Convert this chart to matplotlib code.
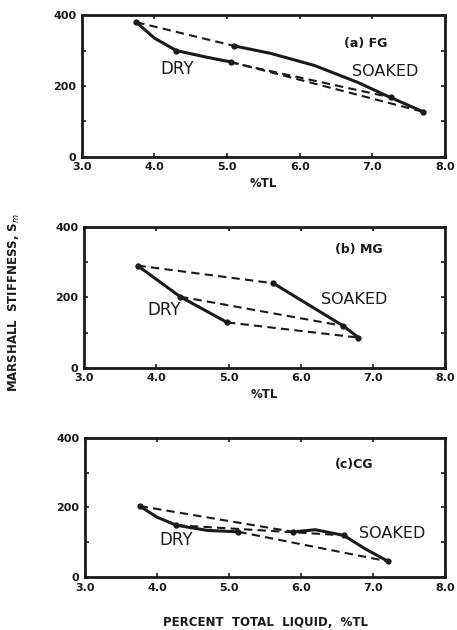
import matplotlib
matplotlib.use('Agg')
from matplotlib import pyplot as plt

# Marshall stiffness vs percent total liquid, dry and soaked, three gradations

# (a) FG
fg_dry_x = [3.75, 4.0, 4.3, 4.7, 5.05]
fg_dry_y = [380, 335, 300, 282, 268]
fg_soak_x = [5.1, 5.6, 6.2, 6.8, 7.2, 7.7]
fg_soak_y = [313, 292, 258, 210, 172, 127]
fg_dry_pts = [(3.75, 380), (4.3, 300), (5.05, 268)]
fg_soak_pts = [(5.1, 313), (7.25, 168), (7.7, 127)]

# (b) MG
mg_dry_x = [3.74, 4.33, 4.98]
mg_dry_y = [290, 202, 129]
mg_soak_x = [5.62, 6.59, 6.80]
mg_soak_y = [240, 119, 86]
mg_dry_pts = [(3.74, 290), (4.33, 202), (4.98, 129)]
mg_soak_pts = [(5.62, 240), (6.59, 119), (6.80, 86)]

# (c) CG
cg_dry_x = [3.76, 4.0, 4.27, 4.7, 5.13]
cg_dry_y = [204, 172, 149, 134, 130]
cg_soak_x = [5.89, 6.2, 6.59, 6.9, 7.21]
cg_soak_y = [130, 136, 120, 80, 45]
cg_dry_pts = [(3.76, 204), (4.27, 149), (5.13, 130)]
cg_soak_pts = [(5.89, 130), (6.59, 120), (7.21, 45)]

panels = [
    ('(a) FG', fg_dry_x, fg_dry_y, fg_soak_x, fg_soak_y, fg_dry_pts, fg_soak_pts,
     (6.9, 320), (4.31, 249), (7.18, 240)),
    ('(b) MG', mg_dry_x, mg_dry_y, mg_soak_x, mg_soak_y, mg_dry_pts, mg_soak_pts,
     (6.8, 335), (4.11, 164), (6.74, 193)),
    ('(c)CG', cg_dry_x, cg_dry_y, cg_soak_x, cg_soak_y, cg_dry_pts, cg_soak_pts,
     (6.74, 323), (4.26, 106), (7.26, 125)),
]

xticks = [3.0, 4.0, 5.0, 6.0, 7.0, 8.0]
xticklabels = ['3.0', '4.0', '5.0', '6.0', '7.0', '8.0']
yticks = [0, 200, 400]

boxes = [[0.179, 0.751, 0.795, 0.225],
         [0.184, 0.416, 0.790, 0.224],
         [0.186, 0.084, 0.788, 0.221]]

ink = '#1a1a1a'
fig = plt.figure(figsize=(4.57, 6.3), dpi=100)

for i in range(3):
    title, dx, dy, sx, sy, dpts, spts, tpos, dpos, spos = panels[i]
    ax = fig.add_axes(boxes[i])
    ax.plot(dx, dy, '-', color=ink, lw=2.2)
    ax.plot(sx, sy, '-', color=ink, lw=2.2)
    # dashed lines join each dry mix to its soaked state
    for (x0, y0), (x1, y1) in zip(dpts, spts):
        ax.plot([x0, x1], [y0, y1], '--', color=ink, lw=1.5, dashes=(4, 2.5))
    ax.plot([p[0] for p in dpts + spts], [p[1] for p in dpts + spts], 'o',
            color=ink, ms=3.5)
    ax.text(tpos[0], tpos[1], title, ha='center', va='center', fontsize=9,
            fontweight='bold', color=ink)
    ax.text(dpos[0], dpos[1], 'DRY', ha='center', va='center', fontsize=12,
            color=ink)
    ax.text(spos[0], spos[1], 'SOAKED', ha='center', va='center', fontsize=11.5,
            color=ink)

    ax.set_xlim(3.0, 8.0)
    ax.set_ylim(0, 400)
    ax.set_xticks(xticks)
    ax.set_xticklabels(xticklabels)
    ax.set_yticks(yticks)
    ax.set_yticks([100, 300], minor=True)
    ax.tick_params(which='both', direction='in', length=3, width=1.2,
                   top=True, right=True, labelsize=8, colors=ink)
    ax.tick_params(axis='x', pad=4)
    ax.tick_params(axis='y', pad=4)
    for lab in ax.get_xticklabels() + ax.get_yticklabels():
        lab.set_fontweight('heavy')
    for s in ax.spines.values():
        s.set_linewidth(2)
        s.set_color(ink)
    if i < 2:
        ax.set_xlabel('%TL', fontsize=8.5, fontweight='heavy', labelpad=3,
                      color=ink)
    else:
        ax.set_xlabel('PERCENT  TOTAL  LIQUID,  %TL', fontsize=8.5,
                      fontweight='heavy', labelpad=17, color=ink)

fig.text(0.032, 0.52, 'MARSHALL  STIFFNESS, S$_m$', rotation=90, ha='center',
         va='center', fontsize=8.5, fontweight='heavy', color=ink)

plt.savefig('out.png', dpi=100)
